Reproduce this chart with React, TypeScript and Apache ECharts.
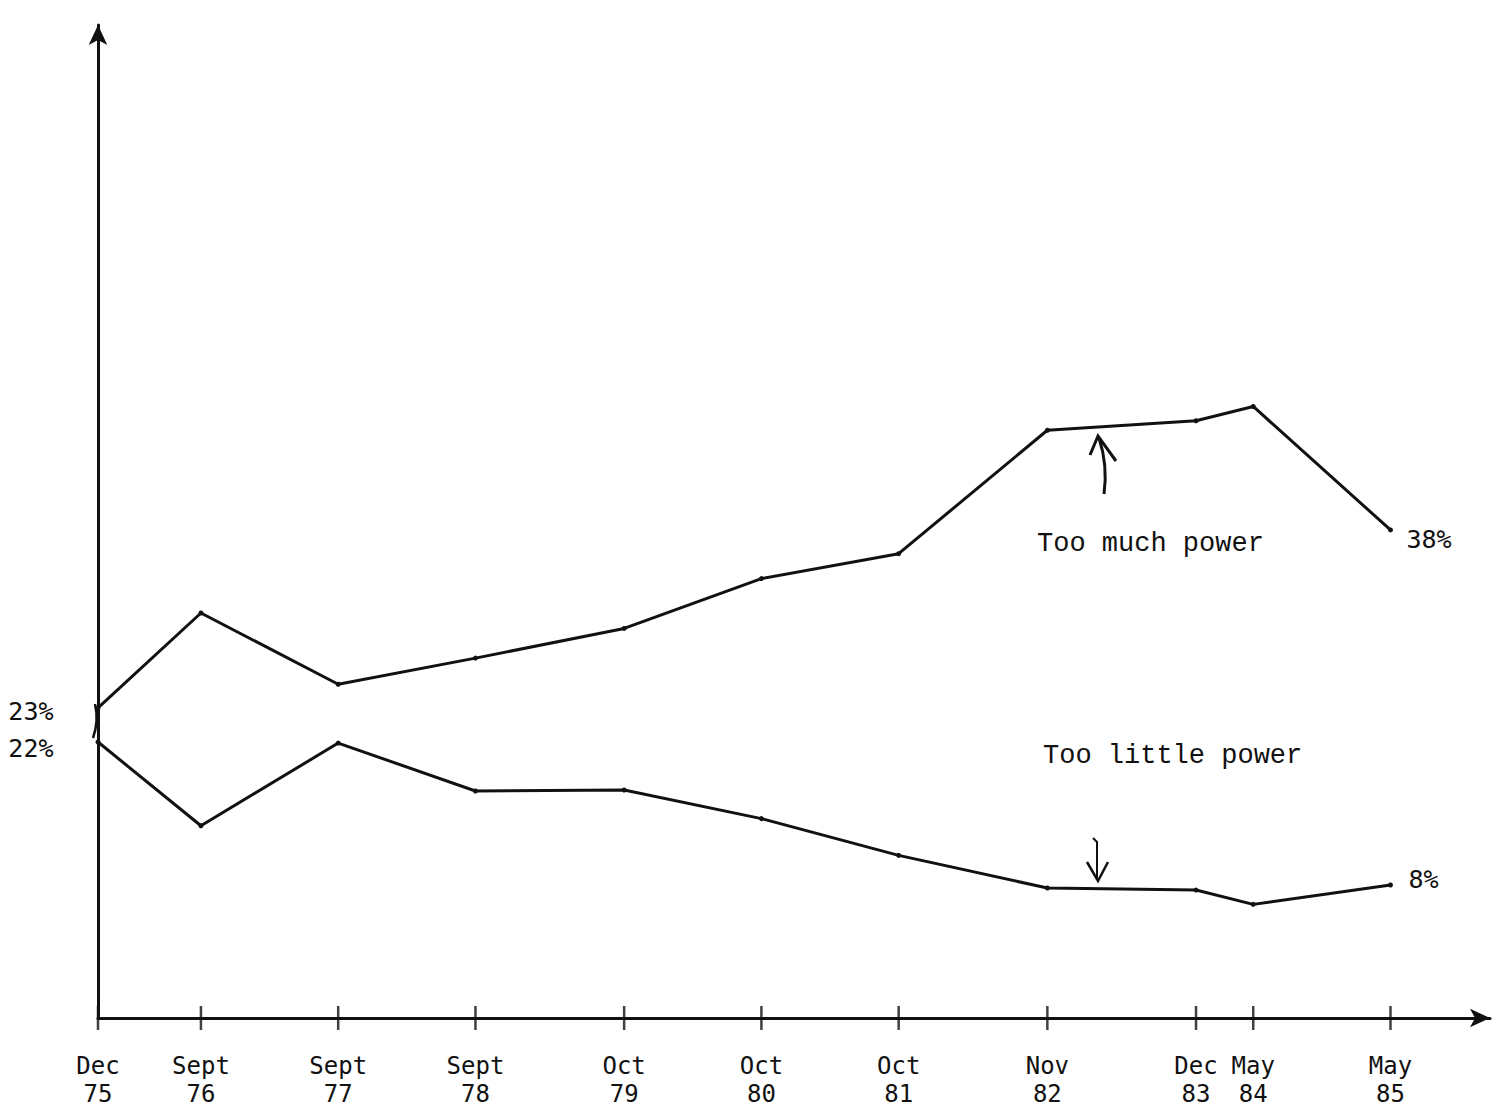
import React, { useEffect, useRef } from "react";
import * as echarts from "echarts";

// Survey dates (x axis)
const categories = ["Dec 75", "Sept 76", "Sept 77", "Sept 78", "Oct 79", "Oct 80", "Oct 81", "Nov 82", "Dec 83", "May 84", "May 85"];
// Percent saying "Too much power"
const tooMuch = [23, 31.0, 25.0, 27.2, 29.7, 33.9, 36.0, 46.4, 47.2, 48.4, 38];
// Percent saying "Too little power"
const tooLittle = [22, 13.8, 21.9, 17.2, 17.3, 14.5, 10.9, 7.7, 7.5, 6.1, 8];

const MONTHS: Record<string, number> = { Jan: 0, Feb: 1, Mar: 2, Apr: 3, May: 4, Jun: 5, Jul: 6, Aug: 7, Sept: 8, Oct: 9, Nov: 10, Dec: 11 };
const monthsSinceStart = categories.map((c) => {
  const [m, y] = c.split(" ");
  return (parseInt(y, 10) - 75) * 12 + MONTHS[m] - 11;
});

const LABEL_FONT = "'DejaVu Sans Mono', monospace";
const TYPE_FONT = "'Liberation Mono', 'Courier New', monospace";
const INK = "#111";
const Y_MIN = -3.12;

export default function App() {
  const ref = useRef<HTMLDivElement>(null);
  useEffect(() => {
    if (!ref.current) return;
    const chart = echarts.init(ref.current, null, { renderer: "svg" });
    const labelFor = (v: number) => {
      const i = monthsSinceStart.indexOf(Math.round(v));
      if (i < 0) return "";
      const [m, y] = categories[i].split(" ");
      return m + "\n" + y;
    };
    const startLabel = (dy: number) => ({
      show: true,
      position: "left",
      distance: 42,
      offset: [0, dy],
      formatter: (p: any) => p.value[1] + "%",
      fontFamily: LABEL_FONT,
      fontSize: 25,
      color: INK,
    });
    const mkData = (vals: number[], dy: number) =>
      vals.map((v, i) =>
        i === 0 ? { value: [monthsSinceStart[i], v], label: startLabel(dy) } : { value: [monthsSinceStart[i], v] }
      );

    chart.setOption({
      animation: false,
      backgroundColor: "#ffffff",
      grid: { left: 98, right: 4, top: 25, bottom: 101, containLabel: false },
      xAxis: {
        type: "value",
        position: "bottom",
        min: 0,
        max: 121.7,
        axisLine: { show: true, onZero: false, lineStyle: { color: INK, width: 3 }, symbol: ["none", "arrow"], symbolSize: [14, 20] },
        axisTick: { show: false },
        axisLabel: {
          show: true,
          customValues: monthsSinceStart,
          formatter: labelFor,
          margin: 34,
          fontFamily: LABEL_FONT,
          fontSize: 24,
          lineHeight: 28,
          color: INK,
        },
        splitLine: { show: false },
      },
      yAxis: [
        {
          type: "value",
          min: Y_MIN,
          max: 80.54,
          axisLine: { show: true, onZero: false, lineStyle: { color: INK, width: 3 }, symbol: ["none", "arrow"], symbolSize: [14, 20] },
          axisTick: { show: false },
          axisLabel: { show: false },
          splitLine: { show: false },
        },
        {
          type: "value",
          min: -5.03,
          max: 92.23,
          show: false,
          splitLine: { show: false },
        },
      ],
      series: [
        {
          name: "ticks",
          type: "scatter",
          xAxisIndex: 0,
          yAxisIndex: 0,
          silent: true,
          clip: false,
          data: monthsSinceStart.map((m) => [m, Y_MIN]),
          symbol: "rect",
          symbolSize: [2.5, 24],
          itemStyle: { color: INK },
          z: 3,
        },
        {
          name: "Too much power",
          type: "line",
          xAxisIndex: 0,
          yAxisIndex: 0,
          data: mkData(tooMuch, 4),
          symbol: "circle",
          symbolSize: 5,
          showSymbol: true,
          itemStyle: { color: INK },
          lineStyle: { color: INK, width: 3 },
          endLabel: {
            show: true,
            formatter: (p: any) => p.value[1] + "%",
            distance: 16,
            offset: [0, 10],
            fontFamily: LABEL_FONT,
            fontSize: 25,
            color: INK,
          },
        },
        {
          name: "Too little power",
          type: "line",
          xAxisIndex: 0,
          yAxisIndex: 1,
          data: mkData(tooLittle, 6),
          symbol: "circle",
          symbolSize: 5,
          showSymbol: true,
          itemStyle: { color: INK },
          lineStyle: { color: INK, width: 3 },
          endLabel: {
            show: true,
            formatter: (p: any) => p.value[1] + "%",
            distance: 18,
            offset: [0, -5],
            fontFamily: LABEL_FONT,
            fontSize: 25,
            color: INK,
          },
        },
      ],
      graphic: [
        {
          type: "text",
          left: 1037,
          top: 530,
          style: { text: "Too much power", font: "27px " + TYPE_FONT, fill: INK },
        },
        {
          type: "text",
          left: 1043,
          top: 742,
          style: { text: "Too little power", font: "27px " + TYPE_FONT, fill: INK },
        },
        {
          type: "bezierCurve",
          shape: { x1: 95, y1: 704, x2: 93, y2: 738, cpx1: 99, cpy1: 721 },
          style: { stroke: INK, lineWidth: 2.5, fill: "none" },
        },
        {
          type: "bezierCurve",
          shape: { x1: 1104, y1: 494, x2: 1099, y2: 438, cpx1: 1108, cpy1: 465 },
          style: { stroke: INK, lineWidth: 3, fill: "none" },
        },
        {
          type: "polyline",
          shape: { points: [[1090, 455], [1098, 436], [1116, 461]] },
          style: { stroke: INK, lineWidth: 3, fill: "none" },
        },
        {
          type: "polyline",
          shape: { points: [[1093, 838], [1097, 842], [1097, 878]] },
          style: { stroke: INK, lineWidth: 2, fill: "none" },
        },
        {
          type: "polyline",
          shape: { points: [[1087, 862], [1098, 881], [1108, 862]] },
          style: { stroke: INK, lineWidth: 2.5, fill: "none" },
        },
      ],
    });
    return () => chart.dispose();
  }, []);
  return <div ref={ref} style={{ position: "fixed", left: 0, top: 0, width: 1494, height: 1119 }} />;
}
